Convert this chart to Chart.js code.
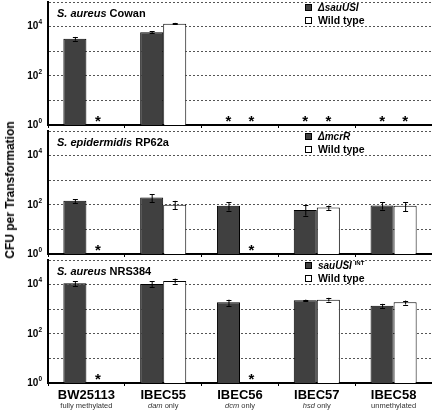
<!DOCTYPE html>
<html>
<head>
<meta charset="utf-8">
<script src="https://cdn.jsdelivr.net/npm/chart.js@4"></script>
<style>
  body { margin: 0; background: #fff; }
  #wrap { position: relative; width: 432px; height: 416px; background: #fff; font-family: "Liberation Sans", Arial, sans-serif; }
  .panel { position: absolute; left: 0; width: 432px; }
  #ytitle { position: absolute; left: 10px; top: 190px; transform: translate(-50%, -50%) rotate(-90deg);
            white-space: nowrap; font-weight: bold; font-size: 12px; color: #000; }
</style>
</head>
<body>
<div id="wrap">
  <div class="panel" style="top:0;height:130px"><canvas id="p1"></canvas></div>
  <div class="panel" style="top:130px;height:129px"><canvas id="p2"></canvas></div>
  <div class="panel" style="top:259px;height:157px"><canvas id="p3"></canvas></div>
  <div id="ytitle">CFU per Transformation</div>
</div>
<script>
// strains on the x axis
const categories = ['BW25113', 'IBEC55', 'IBEC56', 'IBEC57', 'IBEC58']
// [italic part, plain part]
const subLabels = [['', 'fully methylated'], ['dam', ' only'], ['dcm', ' only'], ['hsd', ' only'], ['', 'unmethylated']]
const yTicks = [1, 10, 100, 1000, 10000, 100000]
const yLabelExps = [0, 2, 4]

// S. aureus Cowan  (null = no transformants, drawn as *)
const cowanMutant = [3200, 5900, null, null, null]
const cowanMutantErr = [[2700, 3800], [5400, 6400], null, null, null]
const cowanWild = [null, 13200, null, null, null]
const cowanWildErr = [null, [12300, 14200], null, null, null]

// S. epidermidis RP62a
const rp62aMutant = [145, 199, 91, 62, 93]
const rp62aMutantErr = [[120, 170], [130, 275], [58, 128], [36, 100], [64, 129]]
const rp62aWild = [null, 100, null, 78, 91]
const rp62aWildErr = [null, [66, 145], null, [61, 93], [55, 129]]

// S. aureus NRS384
const nrsMutant = [11300, 10700, 1900, 2290, 1390]
const nrsMutantErr = [[8500, 14000], [7800, 13500], [1300, 2450], [2150, 2450], [1150, 1650]]
const nrsWild = [null, 14000, null, 2450, 1900]
const nrsWildErr = [null, [11000, 17500], null, [2050, 2900], [1550, 2250]]

const FONT = '"Liberation Sans", Arial, sans-serif'
const DARK = '#404040'

const panels = {
    p1: { title: [['S. aureus ', 'italic bold 11px'], ['Cowan', 'bold 11px']],
          legend: [['ΔsauUSI', 'italic bold 10px']],
          mutant: cowanMutant, mutantErr: cowanMutantErr, wild: cowanWild, wildErr: cowanWildErr,
          top: 2, xh: 5, labels: false },
    p2: { title: [['S. epidermidis ', 'italic bold 11px'], ['RP62a', 'bold 11px']],
          legend: [['ΔmcrR', 'italic bold 10px']],
          mutant: rp62aMutant, mutantErr: rp62aMutantErr, wild: rp62aWild, wildErr: rp62aWildErr,
          top: 1, xh: 5, labels: false },
    p3: { title: [['S. aureus ', 'italic bold 11px'], ['NRS384', 'bold 11px']],
          legend: [['sauUSI ', 'italic bold 10px'], ['INT', 'bold 6px', -3]],
          mutant: nrsMutant, mutantErr: nrsMutantErr, wild: nrsWild, wildErr: nrsWildErr,
          top: 1, xh: 33, labels: true }
}

// draws [text, font, dy] pieces one after another
function drawRich(ctx, parts, x, y) {
    parts.forEach(p => {
        ctx.font = p[1] + ' ' + FONT
        ctx.fillText(p[0], x, y + (p[2] || 0))
        x += ctx.measureText(p[0]).width
    })
}

const extras = {
    id: 'extras',
    afterDatasetsDraw(chart) {
        const ctx = chart.ctx
        const ys = chart.scales.y
        const area = chart.chartArea
        ctx.save()
        chart.data.datasets.forEach((ds, d) => {
            chart.getDatasetMeta(d).data.forEach((bar, i) => {
                if (ds.data[i] == null) {
                    ctx.font = 'bold 15px ' + FONT
                    ctx.textAlign = 'center'
                    ctx.textBaseline = 'alphabetic'
                    ctx.fillStyle = '#000'
                    ctx.fillText('*', bar.x, area.bottom + 0.5)
                    return
                }
                const e = ds.err[i]
                const lo = ys.getPixelForValue(e[0])
                const hi = ys.getPixelForValue(e[1])
                ctx.strokeStyle = '#000'
                ctx.lineWidth = 1
                ctx.beginPath()
                ctx.moveTo(bar.x + 0.5, lo); ctx.lineTo(bar.x + 0.5, hi)
                ctx.moveTo(bar.x - 2, Math.round(lo) + 0.5); ctx.lineTo(bar.x + 3, Math.round(lo) + 0.5)
                ctx.moveTo(bar.x - 2, Math.round(hi) + 0.5); ctx.lineTo(bar.x + 3, Math.round(hi) + 0.5)
                ctx.stroke()
            })
        })
        ctx.restore()
    },
    afterDraw(chart) {
        const p = panels[chart.canvas.id]
        const ctx = chart.ctx
        const area = chart.chartArea
        const ys = chart.scales.y
        const xs = chart.scales.x
        ctx.save()
        ctx.fillStyle = '#000'
        ctx.textBaseline = 'middle'
        ctx.textAlign = 'left'

        // panel title
        drawRich(ctx, p.title, area.left + 9, area.top + 12)

        // legend
        const lx = 305
        const rows = [[p.legend, DARK], [[['Wild type', 'bold 10.5px']], '#fff']]
        rows.forEach((r, k) => {
            const cy = area.top + 5 + k * 13
            ctx.fillStyle = r[1]
            ctx.fillRect(lx, cy - 3, 7, 7)
            ctx.strokeStyle = '#000'
            ctx.lineWidth = 1
            ctx.strokeRect(lx + 0.5, cy - 2.5, 6, 6)
            ctx.fillStyle = '#000'
            drawRich(ctx, r[0], 318, cy + 1)
        })

        // y tick labels 10^n
        yLabelExps.forEach(n => {
            const py = ys.getPixelForValue(Math.pow(10, n))
            ctx.font = 'bold 6.5px ' + FONT
            const sw = ctx.measureText(String(n)).width
            const sx = area.left - 6 - sw
            ctx.textAlign = 'left'
            ctx.fillText(String(n), sx, py - 4)
            ctx.font = 'bold 10px ' + FONT
            ctx.textAlign = 'right'
            ctx.fillText('10', sx, py)
        })

        // category labels under the last panel
        if (p.labels) {
            categories.forEach((c, i) => {
                const cx = xs.getPixelForValue(i)
                ctx.textAlign = 'center'
                ctx.fillStyle = '#000'
                ctx.font = 'bold 13px ' + FONT
                ctx.fillText(c, cx, area.bottom + 12.5)
                const s = subLabels[i]
                ctx.font = 'italic 7.5px ' + FONT
                const w1 = ctx.measureText(s[0]).width
                ctx.font = '7.5px ' + FONT
                const w2 = ctx.measureText(s[1]).width
                ctx.textAlign = 'left'
                ctx.fillStyle = '#333'
                drawRich(ctx, [[s[0], 'italic 7.5px'], [s[1], '7.5px']], cx - (w1 + w2) / 2, area.bottom + 22.5)
            })
        }
        ctx.restore()
    }
}

function make_panel(id) {
    const p = panels[id]
    return new Chart(document.getElementById(id), {
        type: 'bar',
        data: {
            labels: categories,
            datasets: [
                { label: p.legend[0][0], data: p.mutant, err: p.mutantErr,
                  backgroundColor: DARK, borderColor: '#000', borderWidth: 1 },
                { label: 'Wild type', data: p.wild, err: p.wildErr,
                  backgroundColor: '#fff', borderColor: '#000', borderWidth: 1 }
            ]
        },
        options: {
            responsive: true,
            maintainAspectRatio: false,
            animation: false,
            layout: { padding: { top: p.top, left: 0, right: 0, bottom: 0 } },
            datasets: { bar: { categoryPercentage: 0.6, barPercentage: 1 } },
            scales: {
                x: {
                    ticks: { display: false },
                    grid: { offset: true, drawOnChartArea: false, drawTicks: true, tickLength: 3, color: '#000' },
                    border: { color: '#000', width: 2 },
                    afterFit: s => { s.height = p.xh }
                },
                y: {
                    type: 'logarithmic',
                    min: 1,
                    max: 100000,
                    afterBuildTicks: s => { s.ticks = yTicks.map(v => ({ value: v })) },
                    ticks: { display: false },
                    grid: { color: '#555', lineWidth: 1, drawTicks: false },
                    border: { color: '#000', width: 2, dash: [2, 2] },
                    afterFit: s => { s.width = 48 }
                }
            },
            plugins: {
                legend: { display: false },
                tooltip: { enabled: false }
            }
        },
        plugins: [extras]
    })
}

make_panel('p1')
make_panel('p2')
make_panel('p3')
</script>
</body>
</html>
